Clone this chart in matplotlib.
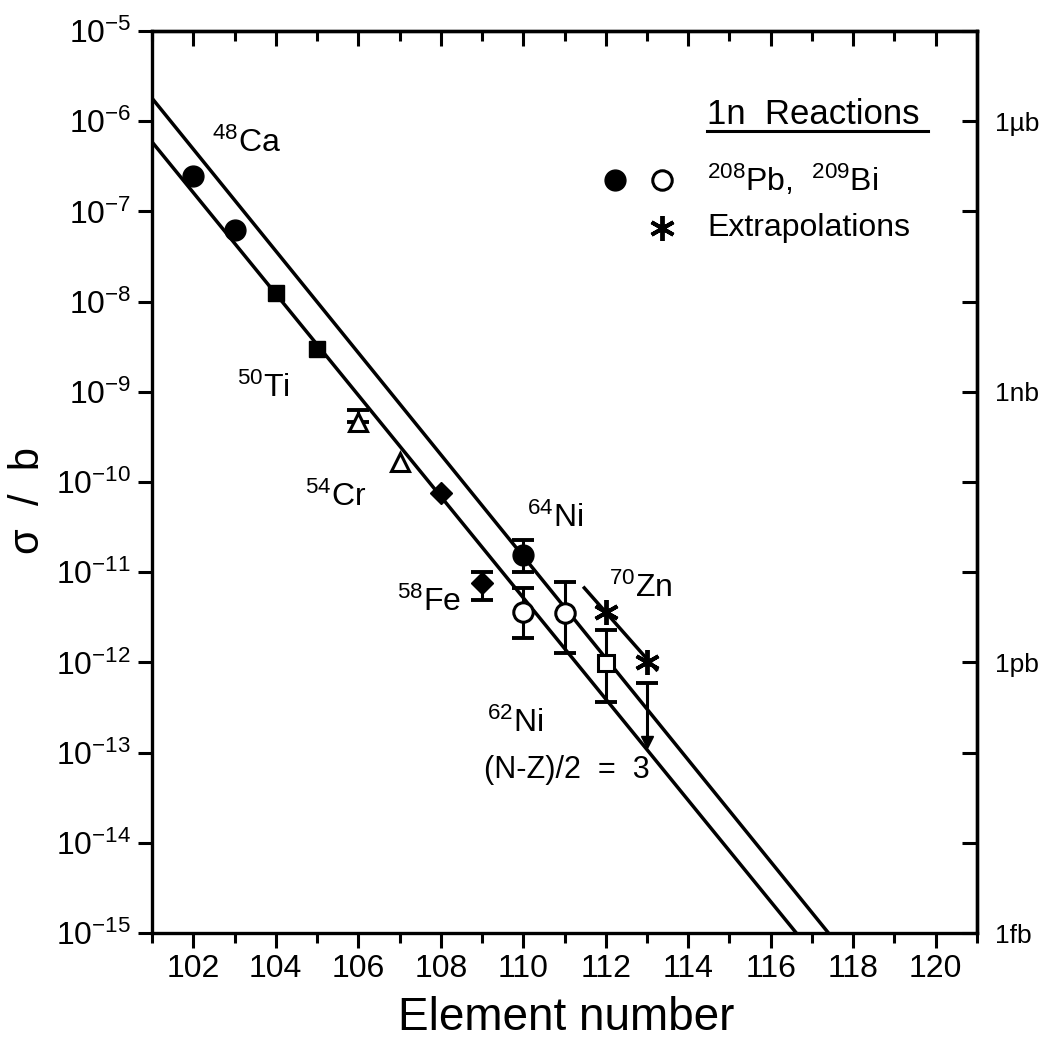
import matplotlib
matplotlib.use("Agg")
import numpy as np
import matplotlib.pyplot as plt
from matplotlib.ticker import NullLocator

plt.rcParams["font.family"] = ["Liberation Sans", "DejaVu Sans"]
plt.rcParams["mathtext.default"] = "regular"

# --- data ---------------------------------------------------------------
x_ticks = [102, 104, 106, 108, 110, 112, 114, 116, 118, 120]
x_minor = [101, 103, 105, 107, 109, 111, 113, 115, 117, 119, 121]
y_decades = [1e-15, 1e-14, 1e-13, 1e-12, 1e-11, 1e-10, 1e-9, 1e-8, 1e-7, 1e-6, 1e-5]
y_exponents = [-15, -14, -13, -12, -11, -10, -9, -8, -7, -6, -5]
right_labels = ["1fb", "", "", "1pb", "", "", "1nb", "", "", "1\u00b5b", ""]

# systematics lines (element number, cross section in b)
upper_line_z = [101.0, 117.4]
upper_line_s = [1.8e-6, 1e-15]
lower_line_z = [101.0, 116.62]
lower_line_s = [5.9e-7, 1e-15]
zn_line_z = [111.48, 113.23]
zn_line_s = [6.7e-12, 8.3e-13]

# measured cross sections
ca_z = [102, 103]
ca_s = [2.5e-7, 6.2e-8]
ti_z = [104, 105]
ti_s = [1.25e-8, 3.0e-9]
cr_z = [106, 107]
cr_s = [4.6e-10, 1.67e-10]
fe_z = [108, 109]
fe_s = [7.5e-11, 7.6e-12]
ni64_z = [110]
ni64_s = [1.55e-11]
ni62_z = [110, 111]
ni62_s = [3.6e-12, 3.55e-12]
zn_z = [112]
zn_s = [9.8e-13]
extra_z = [112, 113]
extra_s = [3.6e-12, 1.0e-12]

# error bars: element, low, high
err_z = [106, 109, 110, 110, 111, 112]
err_mid = [4.6e-10, 7.6e-12, 1.55e-11, 3.6e-12, 3.55e-12, 9.8e-13]
err_lo = [4.6e-10, 4.9e-12, 1.0e-11, 1.85e-12, 1.26e-12, 3.6e-13]
err_hi = [6.3e-10, 1.0e-11, 2.3e-11, 6.7e-12, 7.8e-12, 2.3e-12]

# upper limit with arrow
lim_z = [113]
lim_top = [5.9e-13]
lim_bottom = [1.3e-13]

# --- figure --------------------------------------------------------------
fig = plt.figure(figsize=(10.42, 10.42), dpi=100)
ax = fig.add_axes([0.1459, 0.1046, 0.7917, 0.8656])
ax.set_yscale("log")
ax.set_xlim(101, 121)
ax.set_ylim(1e-15, 1e-5)

lw = 2.5
ax.plot(upper_line_z, upper_line_s, color="black", lw=lw, solid_capstyle="butt")
ax.plot(lower_line_z, lower_line_s, color="black", lw=lw, solid_capstyle="butt")
ax.plot(zn_line_z, zn_line_s, color="black", lw=lw)

mid = np.array(err_mid)
ax.errorbar(err_z, mid, yerr=[mid - np.array(err_lo), np.array(err_hi) - mid],
            fmt="none", ecolor="black", elinewidth=2.2, capsize=8, capthick=2.8)

ax.vlines(lim_z, lim_bottom, lim_top, color="black", lw=2.2)
ax.plot(lim_z, lim_top, marker="_", ms=16, mew=2.8, color="black", ls="none")
ax.plot(lim_z, lim_bottom, marker="v", ms=9, color="black", ls="none")

ax.plot(ca_z, ca_s, "o", ms=15, color="black", ls="none")
ax.plot(ni64_z, ni64_s, "o", ms=15, color="black", ls="none")
ax.plot(ti_z, ti_s, "s", ms=12, color="black", ls="none")
ax.plot(cr_z, cr_s, "^", ms=13, mfc="white", mec="black", mew=2.2, ls="none")
ax.plot(fe_z, fe_s, "D", ms=11, color="black", ls="none")
ax.plot(ni62_z, ni62_s, "o", ms=14, mfc="white", mec="black", mew=2.2, ls="none")
ax.plot(zn_z, zn_s, "s", ms=12, mfc="white", mec="black", mew=2.2, ls="none")
ax.plot(extra_z, extra_s, marker=(6, 2, 0), ms=18, mew=2.8, color="black", ls="none")

# --- annotations ---------------------------------------------------------
for txt, zx, sy in [("$^{48}$Ca", 102.45, 10 ** -6.24),
                    ("$^{50}$Ti", 103.06, 10 ** -8.96),
                    ("$^{54}$Cr", 104.7, 10 ** -10.17),
                    ("$^{58}$Fe", 106.93, 10 ** -11.33),
                    ("$^{64}$Ni", 110.08, 10 ** -10.4),
                    ("$^{70}$Zn", 112.09, 10 ** -11.18),
                    ("$^{62}$Ni", 109.11, 10 ** -12.68)]:
    ax.text(zx, sy, txt, fontsize=23, ha="left", va="center")
ax.text(109.06, 10 ** -13.19, "(N-Z)/2  =  3", fontsize=22, ha="left", va="center")

# legend block
ax.text(0.673, 0.907, "1n  Reactions", transform=ax.transAxes, fontsize=25,
        ha="left", va="center")
ax.plot([0.673, 0.9406], [0.889, 0.889], transform=ax.transAxes, color="black", lw=2.2)
ax.plot([0.561], [0.835], "o", transform=ax.transAxes, ms=15, color="black")
ax.plot([0.618], [0.835], "o", transform=ax.transAxes, ms=14, mfc="white",
        mec="black", mew=2.2)
ax.text(0.673, 0.835, "$^{208}$Pb,  $^{209}$Bi", transform=ax.transAxes,
        fontsize=23, ha="left", va="center")
ax.plot([0.618], [0.7816], marker=(6, 2, 0), transform=ax.transAxes, ms=18,
        mew=2.8, color="black")
ax.text(0.673, 0.7816, "Extrapolations", transform=ax.transAxes, fontsize=23,
        ha="left", va="center")

# --- axes styling --------------------------------------------------------
for sp in ax.spines.values():
    sp.set_linewidth(2.4)

ax.set_xticks(x_ticks)
ax.set_xticks(x_minor, minor=True)
ax.tick_params(axis="x", which="major", direction="out", length=11, width=2.2,
               labelsize=23, pad=4)
ax.tick_params(axis="x", which="minor", direction="out", length=7.5, width=2.2)
ax.set_yticks(y_decades, labels=[f"10$^{{{e}}}$" for e in y_exponents])
ax.yaxis.set_minor_locator(NullLocator())
ax.tick_params(axis="y", which="major", direction="out", length=10, width=2.2,
               labelsize=23, pad=5)

top = ax.secondary_xaxis("top")
top.set_xticks(x_ticks, labels=[])
top.set_xticks(x_minor, minor=True)
top.tick_params(which="major", direction="in", length=11, width=2.2)
top.tick_params(which="minor", direction="in", length=7.5, width=2.2)
top.spines["top"].set_linewidth(2.4)

right = ax.secondary_yaxis("right")
right.set_yticks(y_decades, labels=right_labels)
right.yaxis.set_minor_locator(NullLocator())
right.tick_params(direction="in", length=11, width=2.2, labelsize=19, pad=13)
right.spines["right"].set_linewidth(2.4)

fig.text(566 / 1042, 1 - 1018 / 1042, "Element number", fontsize=33,
         ha="center", va="center")
fig.text(28 / 1042, 1 - 500 / 1042, "\u03c3  /  b", fontsize=30, rotation=90,
         ha="center", va="center")

fig.savefig("out.png", dpi=100, facecolor="white")
